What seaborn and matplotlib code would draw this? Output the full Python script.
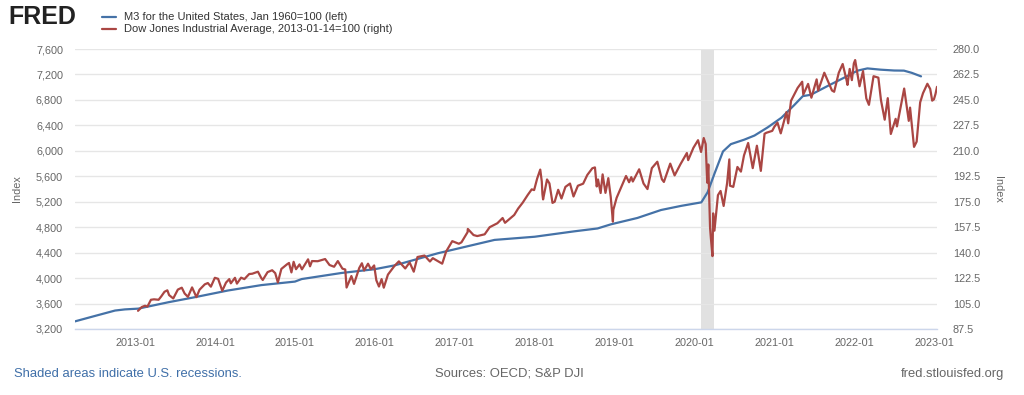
import matplotlib
matplotlib.use("Agg")
import matplotlib.pyplot as plt
import matplotlib.dates as mdates
from matplotlib.lines import Line2D
from matplotlib.ticker import FuncFormatter
import pandas as pd
import seaborn as sns

# ---------------- data ----------------
m3_dates = ["2012-04-01", "2012-07-01", "2012-10-01", "2012-11-15", "2013-01-15",
            "2013-06-01", "2013-10-01", "2014-03-01", "2014-08-01", "2015-01-01",
            "2015-02-01", "2015-08-01", "2016-01-01", "2016-04-01", "2016-10-15",
            "2017-07-01", "2018-01-01", "2018-07-01", "2018-10-15", "2018-12-15",
            "2019-04-15", "2019-08-01", "2019-11-01", "2020-02-01", "2020-03-01",
            "2020-04-01", "2020-05-10", "2020-06-15", "2020-08-15", "2020-10-01",
            "2020-12-01", "2021-02-01", "2021-04-01", "2021-05-10", "2021-06-15",
            "2021-09-01", "2021-11-15", "2022-01-15", "2022-03-01", "2022-05-01",
            "2022-07-01", "2022-08-15", "2022-09-20", "2022-11-01"]
m3_values = [3320, 3405, 3490, 3508, 3520,
             3620, 3700, 3805, 3890, 3945,
             3985, 4080, 4140, 4200, 4390,
             4600, 4650, 4735, 4780, 4845,
             4945, 5070, 5135, 5190, 5350,
             5640, 5990, 6105, 6175, 6240,
             6370, 6520, 6720, 6860, 6880,
             7020, 7150, 7260, 7295, 7275,
             7262, 7260, 7225, 7170]

dow_dates = [
    "2013-01-14", "2013-01-31", "2013-02-15", "2013-02-26", "2013-03-14", "2013-03-28",
    "2013-04-18", "2013-04-30", "2013-05-15", "2013-05-28", "2013-06-05", "2013-06-24",
    "2013-07-15", "2013-08-02", "2013-08-15", "2013-08-30", "2013-09-18", "2013-10-08",
    "2013-10-22", "2013-11-15", "2013-11-29", "2013-12-13", "2013-12-31",
    "2014-01-15", "2014-02-03", "2014-02-20", "2014-03-07", "2014-03-14", "2014-04-02",
    "2014-04-11", "2014-04-30", "2014-05-15", "2014-06-06", "2014-06-20", "2014-07-16",
    "2014-07-31", "2014-08-07", "2014-08-29", "2014-09-19", "2014-10-03", "2014-10-15",
    "2014-10-31", "2014-11-26", "2014-12-05", "2014-12-16", "2014-12-26",
    "2015-01-06", "2015-01-22", "2015-02-02", "2015-03-02", "2015-03-11", "2015-03-20",
    "2015-04-15", "2015-05-19", "2015-06-08", "2015-06-29", "2015-07-16", "2015-08-06",
    "2015-08-19", "2015-08-25", "2015-09-16", "2015-09-28", "2015-10-22", "2015-11-03",
    "2015-11-13", "2015-12-01", "2015-12-14", "2015-12-29",
    "2016-01-08", "2016-01-20", "2016-02-01", "2016-02-11", "2016-03-01", "2016-03-31",
    "2016-04-20", "2016-05-19", "2016-06-08", "2016-06-27", "2016-07-14", "2016-08-15",
    "2016-09-09", "2016-09-22", "2016-11-04", "2016-11-22", "2016-12-20",
    "2017-01-19", "2017-01-31", "2017-02-28", "2017-03-01", "2017-03-27", "2017-04-13",
    "2017-05-17", "2017-06-09", "2017-07-14", "2017-08-07", "2017-08-18", "2017-09-29",
    "2017-10-17", "2017-11-07", "2017-11-30", "2017-12-18", "2017-12-29",
    "2018-01-12", "2018-01-26", "2018-02-02", "2018-02-05", "2018-02-08", "2018-02-26",
    "2018-03-09", "2018-03-23", "2018-04-02", "2018-04-18", "2018-05-03", "2018-05-21",
    "2018-06-11", "2018-06-27", "2018-07-17", "2018-08-10", "2018-08-29", "2018-09-21",
    "2018-10-03", "2018-10-11", "2018-10-17", "2018-10-29", "2018-11-07", "2018-11-20",
    "2018-12-03", "2018-12-14", "2018-12-24", "2018-12-26",
    "2019-01-10", "2019-01-31", "2019-02-22", "2019-03-08", "2019-03-18", "2019-03-25",
    "2019-04-23", "2019-05-13", "2019-05-31", "2019-06-20", "2019-07-15", "2019-08-05",
    "2019-08-14", "2019-08-30", "2019-09-12", "2019-10-02", "2019-10-28", "2019-11-27",
    "2019-12-03", "2019-12-27",
    "2020-01-17", "2020-01-31", "2020-02-12", "2020-02-21", "2020-02-28", "2020-03-04",
    "2020-03-12", "2020-03-16", "2020-03-23", "2020-03-26", "2020-04-01", "2020-04-17",
    "2020-04-29", "2020-05-13", "2020-05-29", "2020-06-08", "2020-06-11", "2020-06-26",
    "2020-07-15", "2020-07-31", "2020-08-14", "2020-09-02", "2020-09-23", "2020-10-12",
    "2020-10-30", "2020-11-16", "2020-11-24", "2020-12-21", "2020-12-31",
    "2021-01-14", "2021-01-29", "2021-02-24", "2021-03-04", "2021-03-17", "2021-04-16",
    "2021-05-07", "2021-05-12", "2021-06-03", "2021-06-18", "2021-07-12", "2021-07-19",
    "2021-08-16", "2021-09-20", "2021-09-30", "2021-10-21", "2021-11-08", "2021-11-26",
    "2021-11-30", "2021-12-10", "2021-12-20", "2021-12-29",
    "2022-01-04", "2022-01-24", "2022-02-09", "2022-02-24", "2022-03-08", "2022-03-29",
    "2022-04-20", "2022-05-02", "2022-05-19", "2022-06-02", "2022-06-16", "2022-07-08",
    "2022-07-14", "2022-08-16", "2022-09-06", "2022-09-12", "2022-09-30", "2022-10-12",
    "2022-10-28", "2022-11-10", "2022-11-30", "2022-12-13", "2022-12-22", "2022-12-30",
    "2023-01-06", "2023-01-13"]
dow_values = [
    100.0, 102.6, 103.5, 102.9, 107.6, 107.9,
    107.6, 109.9, 113.1, 114.1, 110.8, 108.5,
    114.6, 115.9, 111.9, 109.6, 116.1, 109.4,
    114.5, 118.2, 119.1, 116.6, 122.7,
    122.0, 113.8, 119.4, 121.8, 118.9, 122.7,
    118.7, 122.8, 121.8, 125.3, 125.5, 126.9,
    122.6, 121.2, 126.6, 127.9, 125.9, 119.5,
    128.8, 132.0, 132.9, 126.4, 133.7,
    128.6, 131.9, 128.5, 135.4, 130.6, 134.2,
    134.1, 135.6, 131.5, 130.3, 134.2, 129.0,
    128.4, 116.0, 123.9, 118.5, 129.5, 132.7,
    127.7, 132.4, 128.6, 131.2,
    121.0, 116.7, 121.8, 115.9, 124.9, 130.9,
    134.0, 129.1, 133.3, 126.9, 137.0, 138.0,
    133.9, 136.2, 132.4, 140.8, 147.9,
    146.1, 147.1, 154.1, 156.3, 152.1, 151.4,
    152.6, 157.5, 160.2, 163.8, 160.5, 165.9,
    170.3, 174.4, 179.7, 183.5, 183.0,
    191.0, 197.1, 188.9, 180.2, 176.6, 190.3,
    187.6, 174.2, 175.0, 183.2, 177.2, 185.2,
    187.5, 178.6, 186.0, 187.4, 193.4, 198.0,
    198.6, 185.5, 190.3, 181.0, 193.8, 181.1,
    191.2, 178.4, 161.3, 169.4,
    177.7, 185.1, 192.7, 188.4, 191.9, 188.9,
    197.3, 187.5, 183.7, 198.1, 202.5, 190.4,
    188.6, 195.5, 201.2, 193.1, 200.6, 208.5,
    203.6, 212.1,
    217.3, 209.2, 218.8, 214.6, 188.1, 200.6,
    157.0, 149.5, 137.6, 167.0, 155.1, 179.5,
    182.4, 172.1, 187.9, 204.1, 186.0, 185.2,
    198.9, 195.7, 206.8, 215.4, 198.1, 213.5,
    196.2, 221.7, 222.4, 223.7, 226.6,
    229.4, 222.0, 236.6, 228.9, 244.4, 253.2,
    257.5, 248.7, 256.0, 246.5, 259.1, 251.4,
    263.7, 251.5, 250.6, 263.6, 269.7, 258.4,
    255.3, 266.3, 258.6, 270.1,
    272.4, 254.4, 264.8, 246.0, 241.6, 261.3,
    260.3, 244.8, 231.4, 246.2, 221.6, 232.0,
    226.8, 252.8, 230.6, 239.7, 212.7, 216.3,
    243.3, 249.6, 256.1, 252.5, 244.5, 245.4,
    249.0, 254.0]

recession_start = "2020-02-01"
recession_end = "2020-04-01"

x_start = "2012-04-01"
x_end = "2023-01-13"
left_ticks = [3200, 3600, 4000, 4400, 4800, 5200, 5600, 6000, 6400, 6800, 7200, 7600]
right_ticks = [87.5, 105.0, 122.5, 140.0, 157.5, 175.0, 192.5, 210.0, 227.5, 245.0, 262.5, 280.0]

m3_label = "M3 for the United States, Jan 1960=100 (left)"
dow_label = "Dow Jones Industrial Average, 2013-01-14=100 (right)"

# ---------------- style ----------------
sns.set_theme(style="white")
plt.rcParams["font.family"] = ["Liberation Sans", "DejaVu Sans"]

BLUE = "#4572A7"
RED = "#AA4643"
TICK_COLOR = "#666666"
GRID = "#e6e6e6"
AXIS = "#ccd6eb"
FS = 7.8

m3 = pd.DataFrame({"date": pd.to_datetime(m3_dates), "value": m3_values})
dow = pd.DataFrame({"date": pd.to_datetime(dow_dates), "value": dow_values})

W, H = 1024, 395
fig = plt.figure(figsize=(W / 100, H / 100), dpi=100)
ax = fig.add_axes([75 / W, 1 - 329 / H, (937 - 75) / W, (329 - 49) / H])
ax2 = ax.twinx()

ax.axvspan(pd.Timestamp(recession_start), pd.Timestamp(recession_end),
           color="#e1e1e1", lw=0, zorder=0)

sns.lineplot(data=m3, x="date", y="value", ax=ax, color=BLUE, lw=1.6, zorder=3)
sns.lineplot(data=dow, x="date", y="value", ax=ax2, color=RED, lw=1.6, zorder=3)

ax.set_xlim(pd.Timestamp(x_start), pd.Timestamp(x_end))
ax.set_ylim(left_ticks[0], left_ticks[-1])
ax2.set_ylim(right_ticks[0], right_ticks[-1])
ax.set_yticks(left_ticks)
ax2.set_yticks(right_ticks)
ax.yaxis.set_major_formatter(FuncFormatter(lambda v, p: f"{v:,.0f}"))
ax2.yaxis.set_major_formatter(FuncFormatter(lambda v, p: f"{v:.1f}"))

ax.xaxis.set_major_locator(mdates.YearLocator(1, month=1, day=1))
ax.xaxis.set_major_formatter(mdates.DateFormatter("%Y-%m"))

ax.grid(axis="y", color=GRID, lw=1)
ax.grid(axis="x", visible=False)
ax2.grid(False)
ax.set_axisbelow(True)

for a in (ax, ax2):
    for s in ("top", "left", "right", "bottom"):
        a.spines[s].set_visible(False)
    a.patch.set_visible(False)
ax.spines["bottom"].set_visible(True)
ax.spines["bottom"].set_color(AXIS)
ax.spines["bottom"].set_linewidth(1)

ax.tick_params(axis="x", colors=AXIS, length=5, width=1, direction="out",
               labelcolor=TICK_COLOR, labelsize=FS, pad=1.5)
ax.tick_params(axis="y", length=0, labelcolor=TICK_COLOR, labelsize=FS, pad=8.6)
ax2.tick_params(axis="y", length=0, labelcolor=TICK_COLOR, labelsize=FS, pad=11.5)

ax.set_xlabel("")
ax.set_ylabel("")
ax2.set_ylabel("")
fig.text(17 / W, 1 - 189 / H, "Index", rotation=90, color=TICK_COLOR, fontsize=FS,
         ha="center", va="center")
fig.text(998 / W, 1 - 189 / H, "Index", rotation=270, color=TICK_COLOR, fontsize=FS,
         ha="center", va="center")

# header
fig.text(8 / W, 1 - 17 / H, "FRED", fontsize=18, fontweight="bold", color="#222222",
         ha="left", va="center")
fig.add_artist(Line2D([102 / W, 116 / W], [1 - 17 / H, 1 - 17 / H], color=BLUE, lw=1.6))
fig.add_artist(Line2D([102 / W, 116 / W], [1 - 29 / H, 1 - 29 / H], color=RED, lw=1.6))
fig.text(124 / W, 1 - 16.5 / H, m3_label, fontsize=8.0, color="#333333", ha="left", va="center")
fig.text(124 / W, 1 - 29 / H, dow_label, fontsize=8.0, color="#333333", ha="left", va="center")

# footer
fig.text(14 / W, 1 - 374 / H, "Shaded areas indicate U.S. recessions.", fontsize=9.4,
         color="#3f6fa8", ha="left", va="center")
fig.text(509 / W, 1 - 374 / H, "Sources: OECD; S&P DJI", fontsize=9.4, color="#666666",
         ha="center", va="center")
fig.text(1004 / W, 1 - 374 / H, "fred.stlouisfed.org", fontsize=9.4, color="#666666",
         ha="right", va="center")

fig.savefig("out.png", dpi=100, facecolor="white")
